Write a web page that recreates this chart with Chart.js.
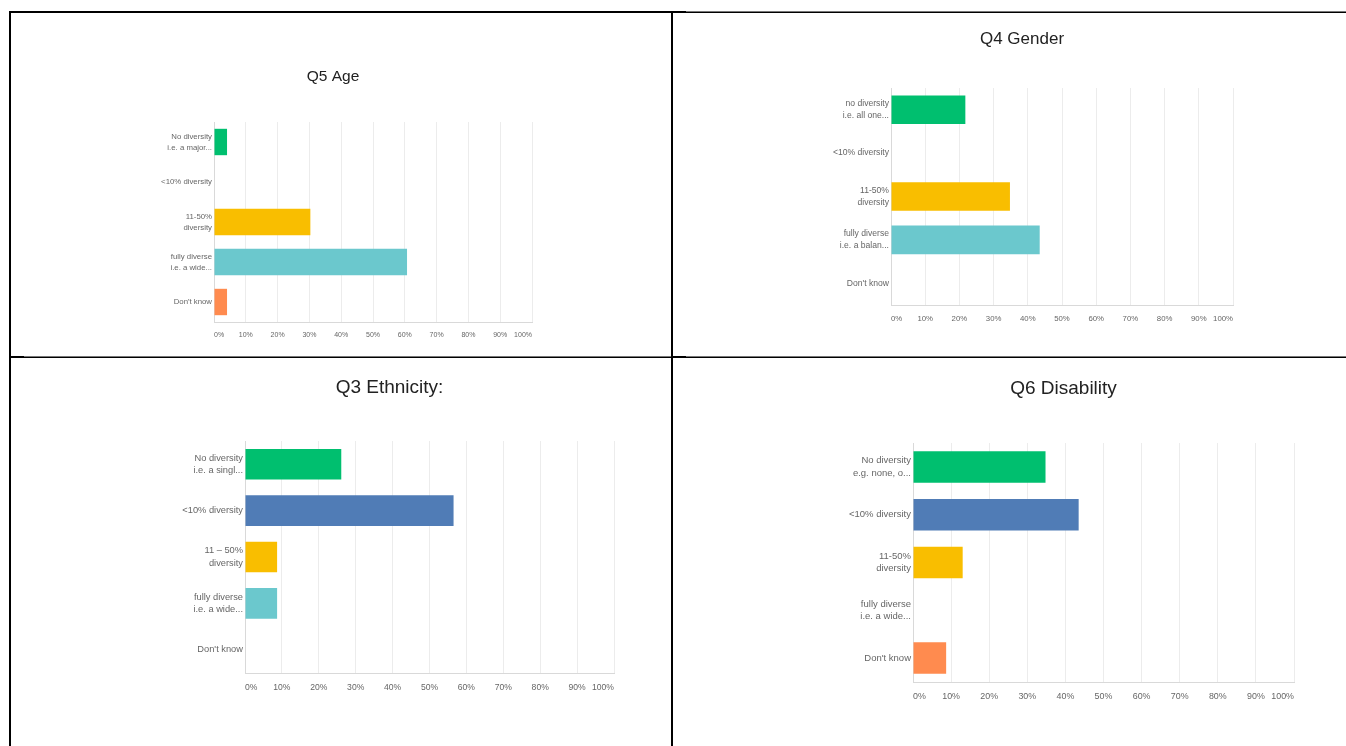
<!DOCTYPE html>
<html>
<head>
<meta charset="utf-8">
<script src="https://cdn.jsdelivr.net/npm/chart.js@4.4.1/dist/chart.umd.min.js"></script>
<style>
  body { margin: 0; background: #fff; width: 1346px; height: 746px; overflow: hidden; position: relative; }
  .ln { position: absolute; background: #000; }
  .thin { position: absolute; background: #000; height: 1px; box-shadow: 0 -1px 0 #777; }
  canvas { position: absolute; }
</style>
</head>
<body>
<!-- table borders -->
<div class="ln" style="left:9px;top:11px;width:677px;height:2px"></div>
<div class="thin" style="left:686px;top:12px;width:660px"></div>
<div class="ln" style="left:9px;top:11px;width:2px;height:735px"></div>
<div class="ln" style="left:671px;top:11px;width:2px;height:735px"></div>
<div class="thin" style="left:9px;top:357px;width:1337px"></div>
<div class="ln" style="left:9px;top:356px;width:15px;height:2px"></div>
<div class="ln" style="left:671px;top:356px;width:15px;height:2px"></div>

<canvas id="q5"></canvas>
<canvas id="q4"></canvas>
<canvas id="q3"></canvas>
<canvas id="q6"></canvas>

<script>
// colours used by every chart, one per answer
var answerColors = ["#00bf6f", "#507cb6", "#f9be00", "#6bc8cd", "#ff8b4f"];

// x axis ticks (percent)
var pctTicks = [0, 10, 20, 30, 40, 50, 60, 70, 80, 90, 100];

// Q5 Age
var q5Labels = [["No diversity", "i.e. a major..."], "<10% diversity", ["11-50%", "diversity"], ["fully diverse", "i.e. a wide..."], "Don't know"];
var q5Values = [4.1, 0, 30.3, 60.7, 4.1];

// Q4 Gender
var q4Labels = [["no diversity", "i.e. all one..."], "<10% diversity", ["11-50%", "diversity"], ["fully diverse", "i.e. a balan..."], "Don't know"];
var q4Values = [21.74, 0, 34.78, 43.48, 0];

// Q3 Ethnicity
var q3Labels = [["No diversity", "i.e. a singl..."], "<10% diversity", ["11 \u2013 50%", "diversity"], ["fully diverse", "i.e. a wide..."], "Don't know"];
var q3Values = [26.09, 56.52, 8.7, 8.7, 0];

// Q6 Disability
var q6Labels = [["No diversity", "e.g. none, o..."], "<10% diversity", ["11-50%", "diversity"], ["fully diverse", "i.e. a wide..."], "Don't know"];
var q6Values = [34.78, 43.48, 13.04, 0, 8.7];

var fontFam = '"Liberation Sans", Arial, sans-serif';

function drawChart(id, title, labels, values, p) {
  var yW = 80, xH = 30;
  var L = p.left - yW;
  var W = Math.round(2 * (p.titleX - L));
  var T = Math.round(p.titleY - 0.6 * p.titleSize);
  var H = p.bottom + xH - T;
  var titlePad = p.top - T - 1.2 * p.titleSize;

  var c = document.getElementById(id);
  c.width = W;
  c.height = H;
  c.style.left = L + "px";
  c.style.top = T + "px";

  new Chart(c.getContext("2d"), {
    type: "bar",
    data: {
      labels: labels,
      datasets: [{
        data: values,
        backgroundColor: answerColors,
        borderWidth: 0,
        barPercentage: 0.66,
        categoryPercentage: 1
      }]
    },
    options: {
      indexAxis: "y",
      responsive: false,
      animation: false,
      devicePixelRatio: 1,
      layout: { padding: { left: 0, top: 0, bottom: 0, right: L + W - p.right } },
      plugins: {
        legend: { display: false },
        tooltip: { enabled: false },
        title: {
          display: true,
          text: title,
          color: "#222",
          font: { family: fontFam, size: p.titleSize, weight: "normal", lineHeight: 1.2 },
          padding: { top: 0, bottom: titlePad }
        }
      },
      scales: {
        x: {
          min: 0,
          max: 100,
          afterBuildTicks: function (s) { s.ticks = pctTicks.map(function (v) { return { value: v }; }); },
          afterFit: function (s) { s.height = xH; },
          grid: { color: "#ececec", drawTicks: false },
          border: { color: "#d9d9d9" },
          ticks: {
            align: "inner",
            padding: 9,
            autoSkip: false,
            maxRotation: 0,
            color: "#666",
            font: { family: fontFam, size: p.xFont },
            callback: function (v) { return v + "%"; }
          }
        },
        y: {
          afterFit: function (s) { s.width = yW; },
          grid: { display: false, drawTicks: false },
          border: { color: "#d9d9d9" },
          ticks: {
            padding: 2,
            autoSkip: false,
            color: "#666",
            font: { family: fontFam, size: p.yFont, lineHeight: p.lh }
          }
        }
      }
    }
  });
}

drawChart("q5", "Q5 Age", q5Labels, q5Values,
  { left: 214, right: 532, top: 122, bottom: 322, titleX: 358, titleY: 76, titleSize: 15.5, xFont: 7, yFont: 7.8, lh: 1.42 });
drawChart("q4", "Q4 Gender", q4Labels, q4Values,
  { left: 891, right: 1233, top: 88, bottom: 305, titleX: 1046, titleY: 39, titleSize: 17, xFont: 7.8, yFont: 8.6, lh: 1.36 });
drawChart("q3", "Q3 Ethnicity:", q3Labels, q3Values,
  { left: 245, right: 614, top: 441, bottom: 673, titleX: 412, titleY: 387, titleSize: 19, xFont: 8.6, yFont: 9.3, lh: 1.32 });
drawChart("q6", "Q6 Disability", q6Labels, q6Values,
  { left: 913, right: 1294, top: 443, bottom: 682, titleX: 1085, titleY: 388, titleSize: 19, xFont: 8.9, yFont: 9.5, lh: 1.33 });
</script>
</body>
</html>
